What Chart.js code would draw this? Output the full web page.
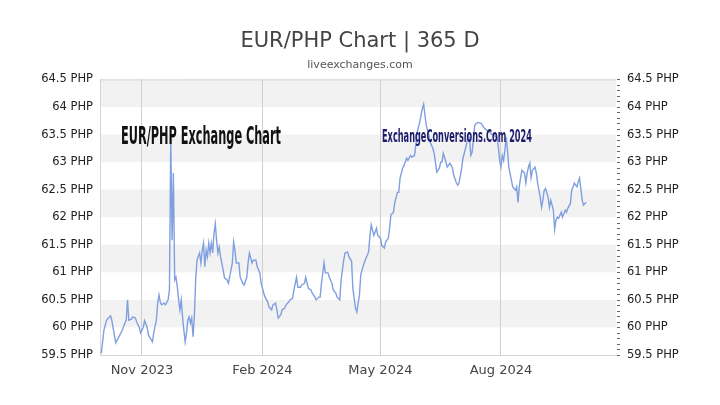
<!DOCTYPE html>
<html>
<head>
<meta charset="utf-8">
<script src="https://cdn.jsdelivr.net/npm/chart.js@4"></script>
<style>
  html, body { margin: 0; padding: 0; background: #fff; }
  #wrap { width: 720px; height: 405px; }
</style>
</head>
<body>
<div id="wrap"><canvas id="chart"></canvas></div>
<script>
// day offsets counted from 2023-10-01
const days = [
  0, 2, 4, 7, 8, 10, 11, 13, 16, 18, 19, 20, 21, 23, 24, 26, 27, 29, 30, 32,
  33, 35, 36, 39, 40, 42, 43, 44, 45, 46, 48, 49, 51, 52, 53, 54, 55, 56, 57, 58,
  59, 60, 61, 62, 63, 64, 65, 66, 67, 68, 69, 70, 71, 72, 73, 75, 76, 77, 78, 79,
  80, 81, 82, 83, 84, 85, 86, 87, 88, 89, 90, 91, 93, 94, 96, 97, 100, 101, 102, 103,
  105, 106, 108, 109, 111, 112, 113, 115, 116, 118, 119, 121, 122, 124, 125, 127, 128, 130, 131, 133,
  134, 135, 137, 138, 140, 141, 143, 144, 146, 147, 149, 150, 152, 153, 155, 156, 158, 160, 161, 163,
  164, 166, 167, 168, 170, 171, 173, 174, 176, 177, 179, 180, 182, 183, 185, 186, 188, 189, 191, 192,
  194, 195, 197, 198, 200, 202, 203, 204, 205, 206, 208, 209, 210, 211, 213, 214, 216, 217, 219, 220,
  221, 223, 224, 226, 227, 228, 230, 231, 233, 234, 236, 237, 239, 240, 241, 243, 244, 245, 246, 247,
  248, 250, 251, 253, 254, 255, 256, 258, 259, 260, 261, 263, 264, 266, 267, 268, 269, 271, 272, 273,
  275, 276, 278, 279, 280, 281, 282, 283, 285, 286, 288, 290, 292, 296, 299, 302, 303, 304, 305, 306,
  307, 308, 309, 310, 311, 313, 314, 316, 317, 318, 319, 320, 321, 323, 324, 325, 326, 327, 328, 329,
  331, 332, 333, 335, 336, 337, 338, 339, 341, 342, 343, 345, 346, 347, 348, 349, 351, 352, 354, 355,
  356, 358, 359, 360, 361, 363, 364, 365, 367, 368, 370
];

const rates = [
  59.53, 59.95, 60.13, 60.21, 60.13, 59.86, 59.72, 59.81, 59.95, 60.08, 60.13, 60.50, 60.13, 60.15, 60.19, 60.17, 60.10, 60.00, 59.90, 60.00,
  60.12, 60.00, 59.86, 59.74, 59.90, 60.13, 60.44, 60.59, 60.46, 60.41, 60.44, 60.41, 60.50, 60.68, 63.43, 61.58, 62.80, 60.86, 60.91, 60.73,
  60.50, 60.32, 60.50, 60.19, 59.95, 59.74, 59.90, 60.13, 60.19, 60.08, 60.17, 59.83, 60.19, 60.86, 61.22, 61.35, 61.17, 61.40, 61.53, 61.10,
  61.40, 61.28, 61.53, 61.35, 61.53, 61.35, 61.70, 61.88, 61.58, 61.35, 61.46, 61.28, 61.04, 60.90, 60.86, 60.80, 61.17, 61.55, 61.40, 61.17,
  61.17, 60.91, 60.80, 60.77, 60.91, 61.17, 61.35, 61.17, 61.22, 61.22, 61.10, 60.99, 60.80, 60.62, 60.55, 60.46, 60.37, 60.32, 60.41, 60.44,
  60.32, 60.17, 60.23, 60.32, 60.35, 60.41, 60.46, 60.50, 60.53, 60.68, 60.91, 60.73, 60.73, 60.77, 60.80, 60.91, 60.71, 60.68, 60.62, 60.55,
  60.50, 60.55, 60.55, 60.80, 61.17, 60.99, 60.99, 60.91, 60.80, 60.68, 60.62, 60.55, 60.50, 60.86, 61.22, 61.35, 61.37, 61.28, 61.20, 60.70,
  60.35, 60.28, 60.59, 60.95, 61.13, 61.26, 61.31, 61.37, 61.67, 61.86, 61.67, 61.73, 61.80, 61.67, 61.62, 61.49, 61.44, 61.55, 61.62, 61.80,
  62.04, 62.09, 62.27, 62.45, 62.45, 62.71, 62.89, 62.94, 63.07, 63.03, 63.12, 63.09, 63.12, 63.30, 63.54, 63.72, 63.85, 63.97, 64.05, 63.85,
  63.67, 63.49, 63.36, 63.25, 63.16, 63.00, 62.82, 62.89, 63.00, 63.00, 63.16, 63.00, 62.91, 62.98, 62.94, 62.89, 62.76, 62.62, 62.58, 62.62,
  62.89, 63.07, 63.25, 63.36, 63.49, 63.43, 63.12, 63.18, 63.67, 63.70, 63.72, 63.70, 63.62, 63.54, 63.49, 63.45, 63.27, 63.03, 62.91, 63.12,
  63.03, 63.21, 63.45, 63.21, 62.91, 62.67, 62.55, 62.49, 62.55, 62.27, 62.55, 62.72, 62.85, 62.80, 62.62, 62.80, 62.91, 62.98, 62.72, 62.85,
  62.91, 62.80, 62.62, 62.36, 62.18, 62.31, 62.49, 62.52, 62.36, 62.18, 62.31, 62.13, 61.78, 61.95, 62.00, 61.98, 62.09, 62.00, 62.13, 62.09,
  62.16, 62.25, 62.49, 62.55, 62.62, 62.55, 62.64, 62.71, 62.31, 62.22, 62.27, 62.31
];

// month ticks on the time axis
const monthTickDays = [31, 123, 213, 305];
const monthTickLabels = ["Nov 2023", "Feb 2024", "May 2024", "Aug 2024"];

const yMin = 59.5, yMax = 64.5, yStep = 0.5;

const points = days.map((d, i) => ({ x: d, y: rates[i] }));

// grey stripes, frame and small ticks on the right side
const bandsPlugin = {
  id: "bands",
  beforeDraw(chart) {
    const { ctx, chartArea, scales } = chart;
    const y = scales.y;
    ctx.save();
    ctx.fillStyle = "#f2f2f2";
    for (let v = yMax; v > yMin; v -= 2 * yStep) {
      const top = y.getPixelForValue(v);
      const bot = y.getPixelForValue(v - yStep);
      ctx.fillRect(chartArea.left, top, chartArea.right - chartArea.left, bot - top);
    }
    ctx.strokeStyle = "#d4d4d4";
    ctx.lineWidth = 1;
    ctx.beginPath();
    ctx.moveTo(chartArea.left, chartArea.top + 0.5);
    ctx.lineTo(chartArea.right, chartArea.top + 0.5);
    ctx.stroke();
    ctx.strokeStyle = "#666";
    ctx.beginPath();
    for (let v = yMin; v <= yMax + 0.001; v += 0.1) {
      const py = Math.round(y.getPixelForValue(v)) + 0.5;
      ctx.moveTo(chartArea.right + 1, py);
      ctx.lineTo(chartArea.right + 4, py);
    }
    ctx.stroke();
    ctx.restore();
  }
};

function fitText(ctx, text, x, y, width, font, color) {
  ctx.save();
  ctx.font = font;
  ctx.fillStyle = color;
  ctx.textBaseline = "alphabetic";
  const w = ctx.measureText(text).width;
  ctx.translate(x, y);
  ctx.scale(width / w, 1);
  ctx.fillText(text, 0, 0);
  ctx.restore();
}

const watermarkPlugin = {
  id: "watermark",
  afterDatasetsDraw(chart) {
    const { ctx, chartArea } = chart;
    fitText(ctx, "EUR/PHP Exchange Chart", chartArea.left + 21, chartArea.top + 65,
      160, "bold 24px 'DejaVu Sans Condensed', 'DejaVu Sans'", "#111");
    fitText(ctx, "ExchangeConversions.Com 2024", chartArea.left + 282, chartArea.top + 63,
      150, "bold 17px 'DejaVu Sans Condensed', 'DejaVu Sans'", "#1c1c6b");
  }
};

new Chart(document.getElementById("chart"), {
  type: "line",
  data: {
    datasets: [{
      data: points,
      borderColor: "#7f9fe0",
      borderWidth: 1.4,
      pointRadius: 0,
      tension: 0,
      fill: false
    }]
  },
  options: {
    responsive: true,
    maintainAspectRatio: false,
    animation: false,
    layout: { padding: 0 },
    plugins: {
      legend: { display: false },
      tooltip: { enabled: false },
      title: {
        display: true,
        text: "EUR/PHP Chart | 365 D",
        color: "#444",
        font: { family: "'DejaVu Sans'", size: 21, weight: "normal" },
        padding: { top: 29, bottom: 3 }
      },
      subtitle: {
        display: true,
        text: "liveexchanges.com",
        color: "#555",
        font: { family: "'DejaVu Sans'", size: 11 },
        padding: { top: 1, bottom: 8 }
      }
    },
    scales: {
      x: {
        type: "linear",
        min: -1,
        max: 392.8,
        afterBuildTicks(axis) {
          axis.ticks = monthTickDays.map(v => ({ value: v }));
        },
        afterFit(axis) { axis.height = 50; },
        ticks: {
          autoSkip: false,
          maxRotation: 0,
          padding: 8,
          color: "#444",
          font: { family: "'DejaVu Sans'", size: 13 },
          callback(value) {
            const i = monthTickDays.indexOf(value);
            return i >= 0 ? monthTickLabels[i] : "";
          }
        },
        grid: { color: "#cfcfcf", drawTicks: false },
        border: { display: true, color: "#d4d4d4" }
      },
      y: {
        position: "left",
        min: yMin,
        max: yMax,
        afterFit(axis) { axis.width = 100; },
        ticks: {
          stepSize: yStep,
          padding: 7,
          color: "#222",
          font: { family: "'DejaVu Sans'", size: 11.5 },
          callback: v => v + " PHP"
        },
        grid: { display: false, drawTicks: false },
        border: { display: true, color: "#d4d4d4" }
      },
      y2: {
        position: "right",
        min: yMin,
        max: yMax,
        afterFit(axis) { axis.width = 104; },
        ticks: {
          stepSize: yStep,
          padding: 11,
          color: "#222",
          font: { family: "'DejaVu Sans'", size: 11.5 },
          callback: v => v + " PHP"
        },
        grid: { display: false, drawTicks: false },
        border: { display: false }
      }
    }
  },
  plugins: [bandsPlugin, watermarkPlugin]
});
</script>
</body>
</html>
